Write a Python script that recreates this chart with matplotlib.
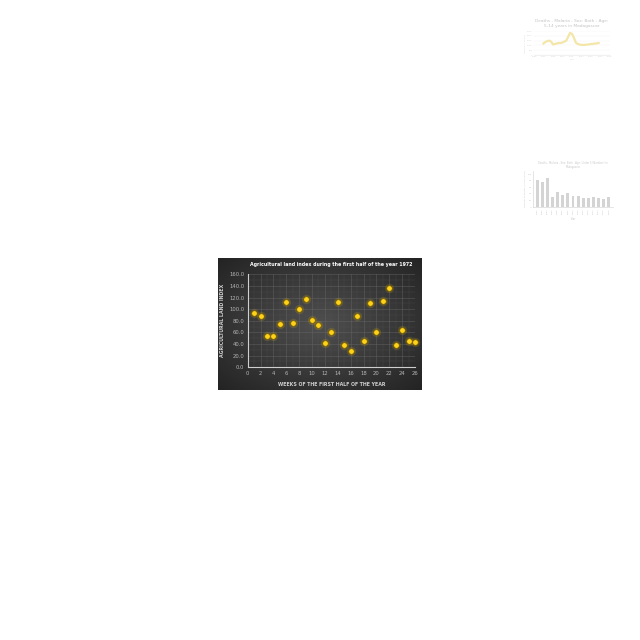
import numpy as np
import matplotlib
matplotlib.use("Agg")
import matplotlib.pyplot as plt
from matplotlib.ticker import MultipleLocator

# main chart data
weeks = list(range(1, 27))
land_index = [94, 89, 53, 53, 74, 113, 76, 101, 118, 82, 72, 42, 61, 112,
              39, 28, 89, 46, 110, 60, 114, 137, 38, 64, 46, 44]

# faded line chart (top right)
years_line = list(range(1990, 2020))
deaths_line = [1200, 1350, 1450, 1500, 1400, 1100, 1150, 1200, 1250, 1250,
               1300, 1400, 1500, 1900, 2300, 2200, 1800, 1300, 1150, 1100,
               1050, 1050, 1050, 1100, 1100, 1150, 1150, 1200, 1200, 1250]

# faded bar chart (right)
bar_labels = [str(y) for y in range(1990, 2020, 2)][:15]
bar_values = [82, 75, 90, 32, 47, 37, 42, 35, 35, 29, 29, 30, 27, 23, 30]

fig = plt.figure(figsize=(6.4, 6.4), dpi=100)
fig.patch.set_facecolor("white")

# dark background with radial gradient
bg = fig.add_axes([218 / 640, 1 - 390 / 640, 204 / 640, 132 / 640])
yy, xx = np.mgrid[-1:1:200j, -1:1:300j]
r = np.sqrt(xx ** 2 + yy ** 2)
shade = 0.31 - 0.12 * r
bg.imshow(shade, cmap="gray", vmin=0, vmax=1, aspect="auto",
          extent=[0, 1, 0, 1])
bg.set_axis_off()

ax = fig.add_axes([247.7 / 640, 1 - 367.3 / 640, (415 - 247.7) / 640, 93 / 640])
ax.patch.set_alpha(0)
ax.scatter(weeks, land_index, s=45, marker="o", color="#ffd400", alpha=0.15,
           lw=0, zorder=3, clip_on=False)
ax.scatter(weeks, land_index, s=16, marker="o", color="#ffd21a",
           edgecolor="#7a5c00", linewidth=0.5, zorder=4, clip_on=False)
ax.set_xlim(0, 26)
ax.set_ylim(0, 160)
ax.xaxis.set_major_locator(MultipleLocator(2))
ax.xaxis.set_minor_locator(MultipleLocator(1))
ax.yaxis.set_major_locator(MultipleLocator(20))
ax.yaxis.set_minor_locator(MultipleLocator(10))
ax.set_yticks(range(0, 161, 20))
ax.set_yticklabels([f"{v:.1f}" for v in range(0, 161, 20)])
ax.grid(which="major", color="#6a6a6a", lw=0.4, alpha=0.7)
ax.grid(which="minor", color="#5a5a5a", lw=0.3, alpha=0.5)
ax.tick_params(which="both", length=0, labelsize=3.8, colors="#b5b5b5", pad=2.5)
for s in ["top", "right"]:
    ax.spines[s].set_visible(False)
for s in ["left", "bottom"]:
    ax.spines[s].set_color("#cfcfcf")
    ax.spines[s].set_linewidth(0.8)
ax.set_title("Agricultural land index during the first half of the year 1972",
             fontsize=3.45, color="white", fontweight="bold", pad=6)
ax.set_xlabel("WEEKS OF THE FIRST HALF OF THE YEAR", fontsize=3.4,
              color="#cfcfcf", fontweight="bold", labelpad=4.5)
ax.set_ylabel("AGRICULTURAL LAND INDEX", fontsize=3.4, color="#cfcfcf",
              fontweight="bold", labelpad=3)

# faded line chart
fade = "#d8d8d8"
ax2 = fig.add_axes([534 / 640, 1 - 55 / 640, 76 / 640, 24 / 640])
ax2.plot(years_line, deaths_line, color="#f3e6a8", lw=1.6)
ax2.set_xlim(1985, 2025)
ax2.set_ylim(0, 2500)
ax2.set_xticks(range(1985, 2026, 5))
ax2.set_yticks(range(0, 2501, 500))
ax2.tick_params(labelsize=1.5, colors=fade, length=0, pad=1)
ax2.grid(axis="y", color="#f2f2f2", lw=0.3)
for s in ["top", "right", "left"]:
    ax2.spines[s].set_visible(False)
ax2.spines["bottom"].set_color("#e6e6e6")
ax2.spines["bottom"].set_linewidth(0.4)
ax2.set_title("Deaths - Malaria - Sex: Both - Age:\n5-14 years in Madagascar",
              fontsize=3.1, color="#c4c4c4", pad=3, linespacing=1.3)
ax2.set_xlabel("Year", fontsize=1.5, color=fade, labelpad=1)
ax2.set_ylabel("Number of deaths", fontsize=1.5, color=fade, labelpad=1)

# faded bar chart
ax3 = fig.add_axes([533 / 640, 1 - 207 / 640, 80 / 640, 36 / 640])
ax3.bar(range(len(bar_values)), bar_values, width=0.55, color="#d4d4d4")
ax3.set_xlim(-0.8, len(bar_values) - 0.2)
ax3.set_ylim(0, 110)
ax3.set_xticks(range(len(bar_values)))
ax3.set_xticklabels(bar_labels, rotation=90)
ax3.set_yticks(range(0, 111, 20))
ax3.tick_params(labelsize=1.6, colors="#c8c8c8", length=0, pad=1)
for s in ["top", "right"]:
    ax3.spines[s].set_visible(False)
ax3.spines["left"].set_color("#d0d0d0")
ax3.spines["bottom"].set_color("#d0d0d0")
ax3.spines["left"].set_linewidth(0.4)
ax3.spines["bottom"].set_linewidth(0.4)
ax3.set_title("Deaths - Malaria - Sex: Both - Age: Under 5 (Number) in\nMadagascar",
              fontsize=1.8, color="#c8c8c8", pad=2)
ax3.set_xlabel("Year", fontsize=1.8, color="#c8c8c8", labelpad=2)
ax3.set_ylabel("Number of deaths (in thousands)", fontsize=1.6, color="#c8c8c8",
               labelpad=1)

fig.savefig("out.png", dpi=100, facecolor="white")
